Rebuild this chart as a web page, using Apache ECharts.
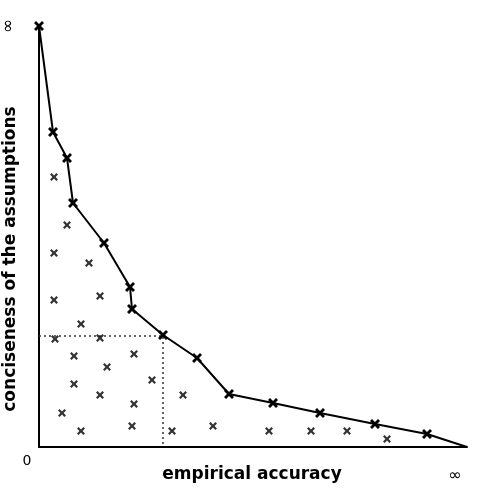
<!DOCTYPE html>
<html>
<head>
<meta charset="utf-8">
<script src="https://cdn.jsdelivr.net/npm/echarts@6/dist/echarts.min.js"></script>
<style>
  html, body { margin: 0; padding: 0; background: #fff; }
  #chart { width: 487px; height: 495px; }
</style>
</head>
<body>
<div id="chart"></div>
<script>
// frontier points (accuracy, conciseness)
const frontierX = [0, 14, 28, 34, 65, 91, 93, 124, 158, 190, 234, 281, 336, 388, 428]
const frontierY = [421, 315, 289, 244, 204, 160, 138, 112, 89, 53, 44, 34, 23, 13, 0]
const frontierMark = [true, true, true, true, true, true, true, true, true, true, true, true, true, true, false]

// dominated models
const otherX = [15, 28, 15, 50, 61, 15, 42, 16, 61, 35, 95, 68, 35, 113, 61, 95, 144, 23, 42, 93, 133, 174, 230, 272, 308, 348]
const otherY = [270, 222, 194, 184, 151, 147, 123, 108, 109, 91, 93, 80, 63, 67, 52, 43, 52, 34, 16, 21, 16, 21, 16, 16, 16, 8]

// the chosen model (dotted guides)
const pickX = 124
const pickY = 111

const xMax = 428
const yMax = 421

// bold "x" glyph
const crossPath = 'path://M0,2L2,0L5,3L8,0L10,2L7,5L10,8L8,10L5,7L2,10L0,8L3,5Z'

const frontier = frontierX.map((x, i) => ({
  value: [x, frontierY[i]],
  symbolSize: frontierMark[i] ? 10 : 0
}))
const others = otherX.map((x, i) => [x, otherY[i]])

const centered = { textAlign: 'center', textVerticalAlign: 'middle', fill: '#000' }

const myChart = echarts.init(document.getElementById('chart'))
myChart.setOption({
  animation: false,
  grid: { left: 39, right: 20, top: 26, bottom: 48, outerBoundsMode: 'none', containLabel: false },
  xAxis: {
    type: 'value', min: 0, max: xMax,
    axisLine: { show: true, lineStyle: { color: '#000', width: 2 } },
    axisTick: { show: false }, axisLabel: { show: false }, splitLine: { show: false }
  },
  yAxis: {
    type: 'value', min: 0, max: yMax,
    axisLine: { show: true, lineStyle: { color: '#000', width: 2 } },
    axisTick: { show: false }, axisLabel: { show: false }, splitLine: { show: false }
  },
  graphic: [
    { type: 'text', x: 252, y: 475, style: Object.assign({ text: 'empirical accuracy', font: 'bold 17px DejaVu Sans' }, centered) },
    { type: 'text', x: 11, y: 259, rotation: Math.PI / 2, style: Object.assign({ text: 'conciseness of the assumptions', font: 'bold 17px DejaVu Sans' }, centered) },
    { type: 'text', x: 27, y: 461, style: Object.assign({ text: '0', font: '14px DejaVu Sans' }, centered) },
    { type: 'text', x: 455, y: 476, style: Object.assign({ text: '∞', font: '16px DejaVu Sans' }, centered) },
    { type: 'text', x: 9, y: 26, rotation: Math.PI / 2, style: Object.assign({ text: '∞', font: '17px DejaVu Sans' }, centered) }
  ],
  series: [
    {
      type: 'line',
      data: [[0, pickY], [pickX, pickY], [pickX, 0]],
      symbol: 'none',
      lineStyle: { color: '#333', width: 1.5, type: [2, 3] },
      z: 1
    },
    {
      type: 'line',
      data: frontier,
      symbol: crossPath,
      itemStyle: { color: '#000' },
      lineStyle: { color: '#000', width: 2 },
      z: 3
    },
    {
      type: 'scatter',
      data: others,
      symbol: crossPath,
      symbolSize: 8,
      itemStyle: { color: '#000' },
      z: 2
    }
  ]
})
</script>
</body>
</html>
